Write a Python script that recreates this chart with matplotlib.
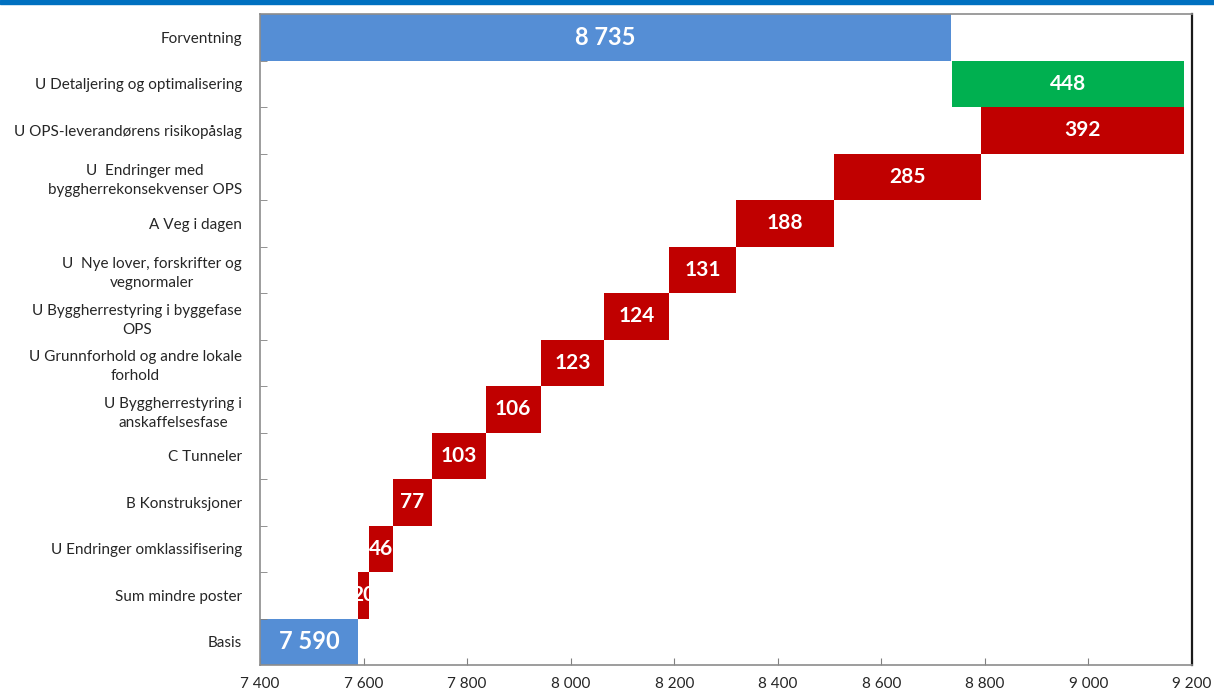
import matplotlib
matplotlib.use("Agg")
import matplotlib.pyplot as plt
from matplotlib.patches import Rectangle
from matplotlib.ticker import FuncFormatter, FixedLocator
import numpy as np

plt.rcParams['font.family'] = ['Lato', 'DejaVu Sans']

# rows from bottom to top
categories = [
    "Basis",
    "Sum mindre poster",
    "U Endringer omklassifisering",
    "B Konstruksjoner",
    "C Tunneler",
    "U Byggherrestyring i\nanskaffelsesfase",
    "U Grunnforhold og andre lokale\nforhold",
    "U Byggherrestyring i byggefase\nOPS",
    "U  Nye lover, forskrifter og\nvegnormaler",
    "A Veg i dagen",
    "U  Endringer med\nbyggherrekonsekvenser OPS",
    "U OPS-leverandørens risikopåslag",
    "U Detaljering og optimalisering",
    "Forventning",
]
basis = 7590
changes = [20, 46, 77, 103, 106, 123, 124, 131, 188, 285, 392, -448]
forventning = 8735

xmin, xmax = 7400, 9200
c_total = '#558ED5'
c_up = '#C00000'
c_down = '#00B050'

fig = plt.figure(figsize=(12.14, 6.95), dpi=100)
ax = fig.add_axes([260 / 1214, 1 - 665 / 695, 932 / 1214, 651 / 695])

y = np.arange(len(categories))

# totals start at the axis minimum
ax.barh(y[0], basis - xmin, left=xmin, height=1.0, color=c_total)
ax.barh(y[-1], forventning - xmin, left=xmin, height=1.0, color=c_total)
ax.text((xmin + basis) / 2, y[0], f"{basis:,}".replace(",", " "),
        color='white', fontsize=17, fontweight='bold', ha='center', va='center')
ax.text((xmin + forventning) / 2, y[-1], f"{forventning:,}".replace(",", " "),
        color='white', fontsize=17, fontweight='bold', ha='center', va='center')

# floating steps
level = basis
for i, v in enumerate(changes):
    yy = y[i + 1]
    col = c_up if v > 0 else c_down
    ax.barh(yy, v, left=level, height=1.0, color=col)
    ax.text(level + v / 2, yy, f"{abs(v)}", color='white', fontsize=15,
            fontweight='bold', ha='center', va='center')
    level += v

ax.set_xlim(xmin, xmax)
ax.set_ylim(-0.5, len(categories) - 0.5)

ax.set_yticks(y)
ax.set_yticklabels(categories, fontsize=11, multialignment='center', linespacing=1.45)
ax.yaxis.set_minor_locator(FixedLocator(y[:-1] + 0.5))
ax.tick_params(axis='y', which='major', length=0, pad=13, colors='#262626')
ax.tick_params(axis='y', which='minor', direction='in', length=5, color='#808080')

ax.set_xticks(np.arange(xmin, xmax + 1, 200))
ax.xaxis.set_major_formatter(FuncFormatter(lambda v, p: f"{int(v):,}".replace(",", " ")))
ax.tick_params(axis='x', direction='in', length=5, color='#808080', pad=9,
               labelsize=11, labelcolor='#262626')

for s in ['left', 'bottom', 'top']:
    ax.spines[s].set_color('#8c8c8c')
    ax.spines[s].set_linewidth(1.2)
ax.spines['right'].set_color('#1a1a1a')
ax.spines['right'].set_linewidth(1.6)

# band along the top edge
fig.add_artist(Rectangle((0, 1 - 4 / 695), 1, 4 / 695, transform=fig.transFigure,
                         color='#0070C0', zorder=5))

fig.savefig("out.png", dpi=100)
